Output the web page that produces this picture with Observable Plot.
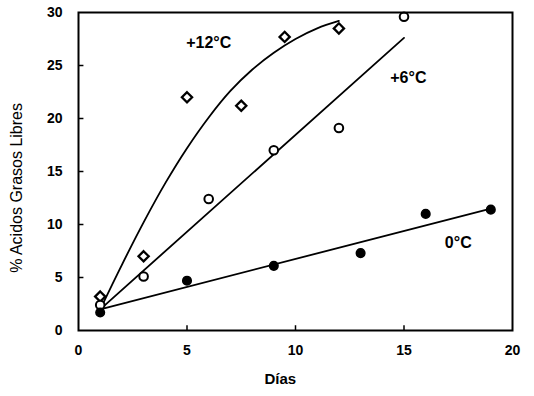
<!DOCTYPE html>
<html>
<head>
<meta charset="utf-8">
<script src="https://cdn.jsdelivr.net/npm/d3@7"></script>
<script src="https://cdn.jsdelivr.net/npm/@observablehq/plot@0.6"></script>
<style>
  html, body { margin: 0; padding: 0; background: #fff; }
  #chart { width: 534px; height: 396px; }
</style>
</head>
<body>
<div id="chart"></div>
<script>
// Observed data
const days12 = [1, 3, 5, 7.5, 9.5, 12];
const pct12  = [3.2, 7.0, 22.0, 21.2, 27.7, 28.5];
const days6  = [1, 3, 6, 9, 12, 15];
const pct6   = [2.4, 5.1, 12.4, 17.0, 19.1, 29.6];
const days0  = [1, 5, 9, 13, 16, 19];
const pct0   = [1.7, 4.7, 6.1, 7.3, 11.0, 11.4];

// Fitted curves
const fit12Days = [1, 2, 3, 4, 5, 6, 7, 8, 9, 10, 11, 12];
const fit12Pct  = [2.0, 6.2, 10.2, 13.9, 17.2, 20.1, 22.6, 24.6, 26.2, 27.5, 28.5, 29.2];
const fit6Days  = [1, 15];
const fit6Pct   = [2.0, 27.6];
const fit0Days  = [1, 19];
const fit0Pct   = [2.0, 11.5];

// Series labels
const seriesLabels = ["+12°C", "+6°C", "0°C"];
const labelDays = [6.0, 15.2, 17.5];
const labelPct  = [27.1, 23.8, 8.3];

// Axis ticks and titles
const xTicks = [0, 5, 10, 15, 20];
const yTicks = [0, 5, 10, 15, 20, 25, 30];
const xTitle = "Días";
const yTitle = "% Acidos Grasos Libres";

const zip = (xs, ys) => xs.map((x, i) => ({x, y: ys[i]}));
const pts12 = zip(days12, pct12), pts6 = zip(days6, pct6), pts0 = zip(days0, pct0);
const labels = seriesLabels.map((t, i) => ({t, x: labelDays[i], y: labelPct[i]}));

const font = "'Liberation Sans', Arial, Helvetica, sans-serif";

const chart = Plot.plot({
  width: 534,
  height: 396,
  marginLeft: 78,
  marginRight: 22,
  marginTop: 12,
  marginBottom: 66,
  style: {fontFamily: font, background: "#fff", color: "#000"},
  x: {domain: [0, 20]},
  y: {domain: [0, 30]},
  marks: [
    Plot.axisX({ticks: xTicks, tickSize: 0, tickPadding: 15, fontSize: 14, fontWeight: "bold", letterSpacing: "1.5px", label: null}),
    Plot.axisY({ticks: yTicks, tickSize: 0, tickPadding: 16, fontSize: 14, fontWeight: "bold", letterSpacing: "1.5px", label: null}),
    Plot.ruleY(yTicks.slice(1, -1), {x1: 0, x2: 0.25, stroke: "#000", strokeWidth: 1.5}),
    Plot.ruleX(xTicks.slice(1, -1), {y1: 0, y2: 0.45, stroke: "#000", strokeWidth: 1.5}),
    Plot.line(zip(fit12Days, fit12Pct), {x: "x", y: "y", curve: "catmull-rom", stroke: "#000", strokeWidth: 1.8}),
    Plot.line(zip(fit6Days, fit6Pct), {x: "x", y: "y", stroke: "#000", strokeWidth: 1.8}),
    Plot.line(zip(fit0Days, fit0Pct), {x: "x", y: "y", stroke: "#000", strokeWidth: 1.8}),
    Plot.dot(pts12, {x: "x", y: "y", symbol: "diamond2", r: 4.6, fill: "#fff", stroke: "#000", strokeWidth: 2.3}),
    Plot.dot(pts6, {x: "x", y: "y", symbol: "circle", r: 4.3, fill: "#fff", stroke: "#000", strokeWidth: 2}),
    Plot.dot(pts0, {x: "x", y: "y", symbol: "circle", r: 4.3, fill: "#000", stroke: "#000"}),
    Plot.text(labels, {x: "x", y: "y", text: "t", fontSize: 16, fontWeight: "bold", letterSpacing: "1.3px", fill: "#000"}),
    Plot.text([xTitle], {x: [9.3], frameAnchor: "bottom", dy: 53, fontSize: 15, fontWeight: "bold", letterSpacing: "1.5px", fill: "#000"}),
    Plot.text([yTitle], {y: [13.45], frameAnchor: "left", textAnchor: "middle", dx: -62, rotate: -90, fontSize: 16, letterSpacing: "0.8px", fill: "#000"}),
    Plot.frame({stroke: "#000", strokeWidth: 2})
  ]
});
document.getElementById("chart").appendChild(chart);
</script>
</body>
</html>
